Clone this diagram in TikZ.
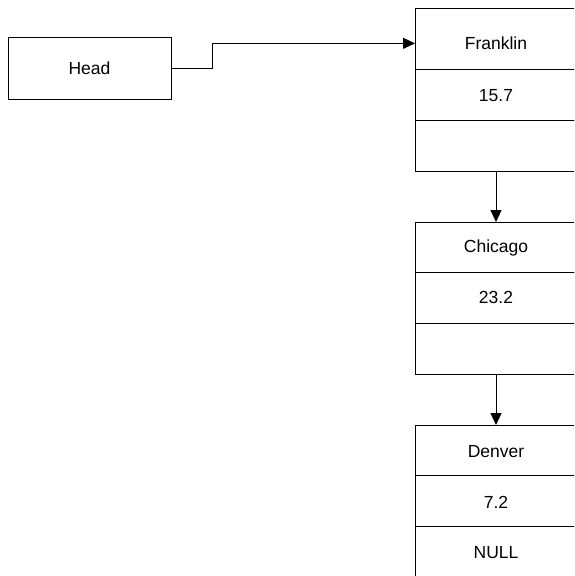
\documentclass[tikz,border=0pt]{standalone}
\usepackage{fontspec}
\setmainfont{Liberation Sans}
\usetikzlibrary{arrows.meta}
\begin{document}
\begin{tikzpicture}[x=1pt,y=-1pt,line width=1pt,
  cell/.style={draw=black, rectangle, inner sep=0pt, outer sep=0pt, anchor=north west, minimum width=162pt},
  lbl/.style={anchor=base, inner sep=0pt, font=\fontsize{17.5}{20}\selectfont},
  link/.style={draw=black, -{Triangle[length=12pt,width=11pt]}}]
\useasboundingbox (0,0) rectangle (574,576);
\begin{scope}
\clip (0,0) rectangle (574,576);
% Head
\node[cell, minimum width=163pt, minimum height=62pt] (head) at (8,37) {};
\node[lbl] (hlbl) at (89.5,74.3) {Head};
% Franklin
\node[cell, minimum height=61pt] (f1) at (415,8) {};
\node[cell, minimum height=51pt] (f2) at (415,69) {};
\node[cell, minimum height=51pt] (f3) at (415,120) {};
\node[lbl] (flbl) at (496,49.6) {Franklin};
\node[lbl] (fval) at (496,101.3) {15.7};
% Chicago
\node[cell, minimum height=50pt] (c1) at (415,222) {};
\node[cell, minimum height=51pt] (c2) at (415,272) {};
\node[cell, minimum height=51pt] (c3) at (415,323) {};
\node[lbl] (clbl) at (496,252.3) {Chicago};
\node[lbl] (cval) at (496,303.8) {23.2};
% Denver
\node[cell, minimum height=50pt] (d1) at (415,425) {};
\node[cell, minimum height=51pt] (d2) at (415,475) {};
\node[cell, minimum height=51pt] (d3) at (415,526) {};
\node[lbl] (dlbl) at (496,457.3) {Denver};
\node[lbl] (dval) at (496,508) {7.2};
\node[lbl] (dnull) at (496,558.8) {NULL};
% connectors
\draw[link] (head.east) -- ++(41pt,0) |- (f1.west |- flbl.center);
\draw[link] (f3.south) -- (c1.north);
\draw[link] (c3.south) -- (d1.north);
\end{scope}
\end{tikzpicture}
\end{document}
